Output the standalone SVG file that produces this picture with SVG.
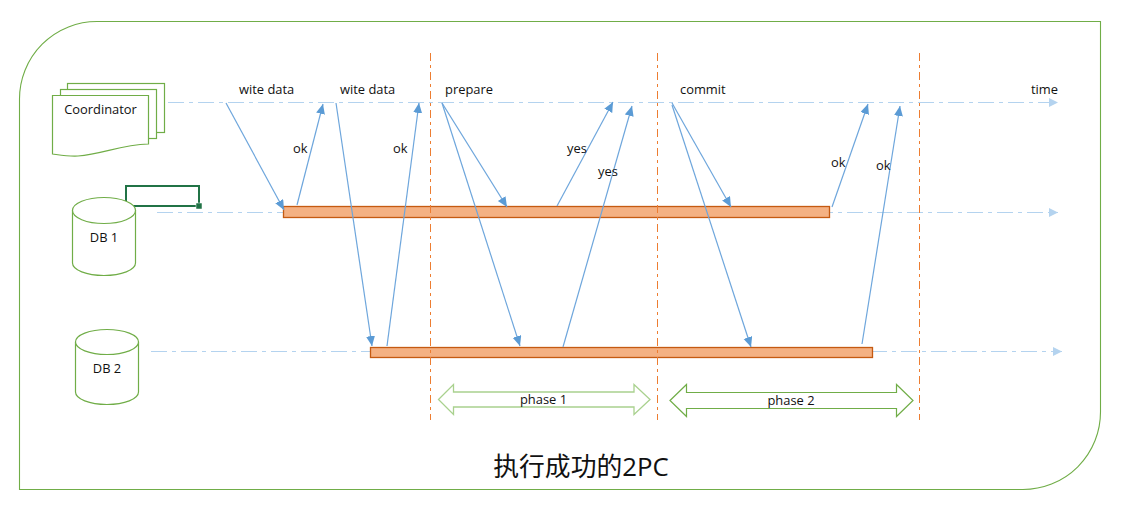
<svg xmlns="http://www.w3.org/2000/svg" width="1132" height="509" viewBox="0 0 1132 509">
<style>
.t{font-family:"Open Sans","Noto Sans","Noto Sans CJK SC",sans-serif;font-size:12.900px;fill:#111}
.s{fill:#fff;stroke:#70ad47;stroke-width:1.200}
.tl{fill:none;stroke:#b4d3ef;stroke-width:1.200;stroke-dasharray:16 5 4 5}
.v{fill:none;stroke:#ed7d31;stroke-width:1;stroke-dasharray:8 4 3 4}
.m{fill:none;stroke:#6ea6dc;stroke-width:1.200;marker-end:url(#a)}
.b{fill:#f4b183;stroke:#c55a11;stroke-width:1.300}
</style>
<defs>
<marker id="a" markerUnits="userSpaceOnUse" markerWidth="11" markerHeight="10" refX="10" refY="4.500" orient="auto"><path d="M0 0L10 4.500L0 9Z" fill="#5b9bd5"/></marker>
<marker id="l" markerUnits="userSpaceOnUse" markerWidth="10" markerHeight="10" refX="9" refY="4.500" orient="auto"><path d="M0 0L9 4.500L0 9Z" fill="#b4d3ef"/></marker>
</defs>
<path id="frame" d="M97 21.500H1100.500V412A77.500 77.500 0 0 1 1023 489.500H19.500V99A77.500 77.500 0 0 1 97 21.500Z" fill="#fff" stroke="#70ad47" stroke-width="1.100"/>
<g id="timelines">
<path class="tl" d="M168 102.500H1058" marker-end="url(#l)"/>
<path class="tl" d="M157 212.500H1058" marker-end="url(#l)"/>
<path class="tl" d="M151 351.500H1062" marker-end="url(#l)"/>
</g>
<g id="bar-db1"><rect class="b" x="283.500" y="206.500" width="546" height="11"/></g>
<g id="bar-db2"><rect class="b" x="370.500" y="347.500" width="502" height="10"/></g>
<g id="connectors">
<path class="v" d="M430.500 53V420"/>
<path class="v" d="M657.500 53V420"/>
<path class="v" d="M919.500 53V420"/>
<path class="m" d="M226 103L284 210"/>
<path class="m" d="M297 205L323 104"/>
<path class="m" d="M336 103L372 346"/>
<path class="m" d="M387 346L419 103"/>
<path class="m" d="M442 103L507 207"/>
<path class="m" d="M442 103L520 346"/>
<path class="m" d="M557 206L613 102"/>
<path class="m" d="M563 347L632 106"/>
<path class="m" d="M672 103L731 207"/>
<path class="m" d="M672 105L751 347"/>
<path class="m" d="M832 207L868 104"/>
<path class="m" d="M862 344L900 106"/>
</g>
<g id="coordinator">
<rect class="s" x="67.500" y="83.500" width="97" height="49"/>
<rect class="s" x="60.500" y="89.500" width="96" height="49"/>
<path class="s" d="M52.500 95.500H148.500V144C120 145 103 154 78 156C68 156.500 60 155 52.500 154Z"/>
<text class="t" x="100.500" y="114" text-anchor="middle">Coordinator</text>
</g>
<g id="selection">
<rect x="126" y="186" width="73" height="20" fill="none" stroke="#217346" stroke-width="2"/>
<rect x="196" y="203" width="6" height="6" fill="#217346" stroke="#fff" stroke-width="0.500"/>
</g>
<g id="db1">
<path class="s" d="M72.500 210V263C72.500 270 86.600 275.500 104 275.500S135.500 270 135.500 263V210"/>
<ellipse class="s" cx="104" cy="210.500" rx="31.500" ry="13"/>
<text class="t" x="104" y="242" text-anchor="middle">DB 1</text>
</g>
<g id="db2">
<path class="s" d="M75.500 342V392C75.500 399 89.600 404.500 107 404.500S138.500 399 138.500 392V342"/>
<ellipse class="s" cx="107" cy="342" rx="31.500" ry="12.500"/>
<text class="t" x="107" y="373" text-anchor="middle">DB 2</text>
</g>
<g id="labels">
<text class="t" x="239" y="94">wite data</text>
<text class="t" x="340" y="94">wite data</text>
<text class="t" x="445" y="94">prepare</text>
<text class="t" x="680" y="94">commit</text>
<text class="t" x="1031" y="94">time</text>
<text class="t" x="293" y="153">ok</text>
<text class="t" x="393" y="153">ok</text>
<text class="t" x="567" y="153">yes</text>
<text class="t" x="598" y="176">yes</text>
<text class="t" x="831" y="167">ok</text>
<text class="t" x="876" y="170">ok</text>
</g>
<g id="phase1">
<path d="M438.500 399.500L453.500 384.500V392H634V384.500L650 399.500L634 414.500V407H453.500V414.500Z" fill="#fff" stroke="#a9d18e" stroke-width="1.300"/>
<text class="t" x="543.500" y="404" text-anchor="middle">phase 1</text>
</g>
<g id="phase2">
<path d="M670 400.500L686.500 384.500V392.500H896.500V384.500L913 400.500L896.500 416.500V408.500H686.500V416.500Z" fill="#fff" stroke="#70ad47" stroke-width="1.200"/>
<text class="t" x="791" y="405" text-anchor="middle">phase 2</text>
</g>
<text id="title" x="581" y="476" text-anchor="middle" font-family="'Open Sans','Noto Sans CJK SC',sans-serif" font-size="25.800" fill="#111">执行成功的2PC</text>
</svg>
